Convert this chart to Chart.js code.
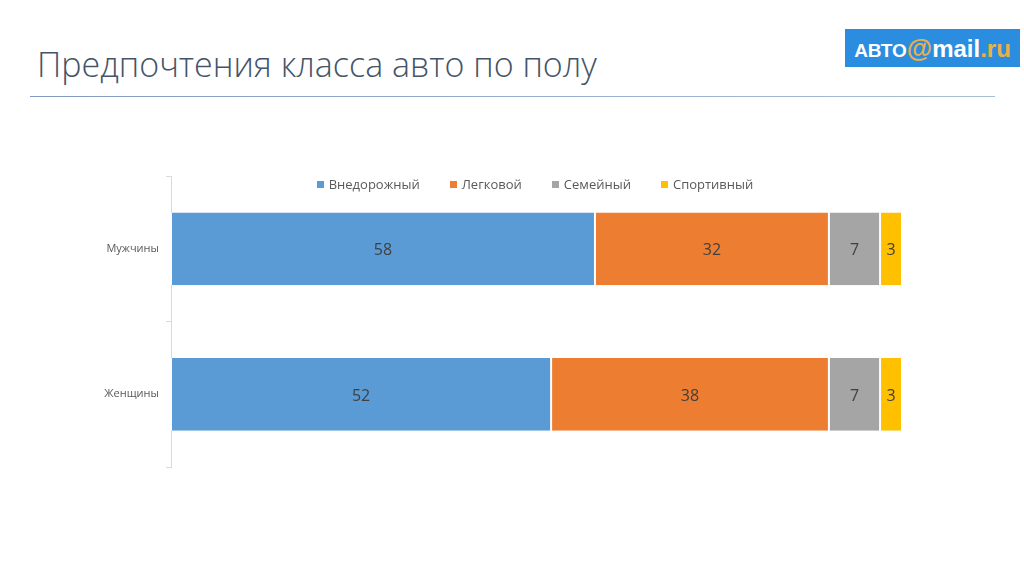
<!DOCTYPE html>
<html>
<head>
<meta charset="utf-8">
<script src="https://cdn.jsdelivr.net/npm/chart.js@4"></script>
<style>
  body { margin: 0; width: 1024px; height: 576px; background: #fff; overflow: hidden; position: relative; font-family: "Open Sans", sans-serif; }
  #title { position: absolute; left: 37px; top: 41px; font-size: 34px; font-weight: 300; color: #44546a; white-space: nowrap; }
  #rule { position: absolute; left: 30px; top: 96px; width: 965px; height: 1px; background: linear-gradient(to right, #7f9cc0, #a9bfd9); }
  #logo { position: absolute; left: 845px; top: 29px; width: 175px; height: 38px; background: #2a8de0; color: #fff; font-family: "Liberation Sans", sans-serif; font-weight: bold; line-height: 38px; text-align: center; white-space: nowrap; }
  #logo .a { font-size: 19px; }
  #logo .b { font-size: 26px; color: #e8b04a; }
  #logo .c { font-size: 24px; }
  #logo .d { font-size: 24px; color: #e8b04a; }
  #legend { position: absolute; left: 0; width: 1070px; top: 175px; text-align: center; font-size: 13px; color: #595959; white-space: nowrap; }
  #legend span.item { margin: 0 15px; }
  #legend span.sw { display: inline-block; width: 7px; height: 7px; margin-right: 5px; vertical-align: 1px; }
  #wrap { position: absolute; left: 0; top: 0; width: 1024px; height: 576px; }
</style>
</head>
<body>
<div id="title">Предпочтения класса авто по полу</div>
<div id="rule"></div>
<div id="logo"><span class="a">АВТО</span><span class="b">@</span><span class="c">mail</span><span class="d">.ru</span></div>
<div id="wrap"><canvas id="chart" width="1024" height="576"></canvas></div>
<div id="legend"></div>
<script>
const categories = ['Мужчины', 'Женщины'];
const seriesNames = ['Внедорожный', 'Легковой', 'Семейный', 'Спортивный'];
const offroad = [58, 52];
const passenger = [32, 38];
const family = [7, 7];
const sport = [3, 3];
const colors = ['#5b9bd5', '#ed7d31', '#a5a5a5', '#ffc000'];

const seriesValues = [offroad, passenger, family, sport];

// legend built from series names
const legend = document.getElementById('legend');
seriesNames.forEach((name, i) => {
    legend.innerHTML += '<span class="item"><span class="sw" style="background:' + colors[i] + '"></span>' + name + '</span>';
});

// draw the value in the middle of each bar segment
const valueLabels = {
    id: 'valueLabels',
    afterDatasetsDraw(chart) {
        const ctx = chart.ctx;
        ctx.save();
        ctx.font = '16px "Open Sans", sans-serif';
        ctx.fillStyle = '#404040';
        ctx.textAlign = 'center';
        ctx.textBaseline = 'middle';
        chart.data.datasets.forEach((ds, i) => {
            chart.getDatasetMeta(i).data.forEach((bar, j) => {
                const p = bar.getProps(['x', 'y', 'base'], true);
                ctx.fillText(ds.data[j], (p.x + p.base) / 2, p.y + 2);
            });
        });
        ctx.restore();
    }
};

const data = {
    labels: categories,
    datasets: seriesNames.map((name, i) => ({
        label: name,
        data: seriesValues[i],
        backgroundColor: colors[i],
        borderColor: '#ffffff',
        borderWidth: { left: 1, right: 1 },
        borderSkipped: false,
        barPercentage: 0.5,
        categoryPercentage: 1
    }))
};

const config = {
    type: 'bar',
    data: data,
    options: {
        indexAxis: 'y',
        responsive: false,
        animation: false,
        layout: { padding: { left: 0, top: 176, right: 122, bottom: 109 } },
        plugins: { legend: { display: false }, tooltip: { enabled: false } },
        scales: {
            x: { stacked: true, min: 0, max: 100, display: false },
            y: {
                stacked: true,
                afterFit(scale) { scale.width = 171; },
                border: { display: true, color: '#d9d9d9' },
                grid: { offset: true, drawOnChartArea: false, tickLength: 5, color: '#d9d9d9' },
                ticks: { padding: 7, color: '#595959', font: { family: '"Open Sans", sans-serif', size: 11 } }
            }
        }
    },
    plugins: [valueLabels]
};

new Chart(document.getElementById('chart').getContext('2d'), config);
</script>
</body>
</html>
